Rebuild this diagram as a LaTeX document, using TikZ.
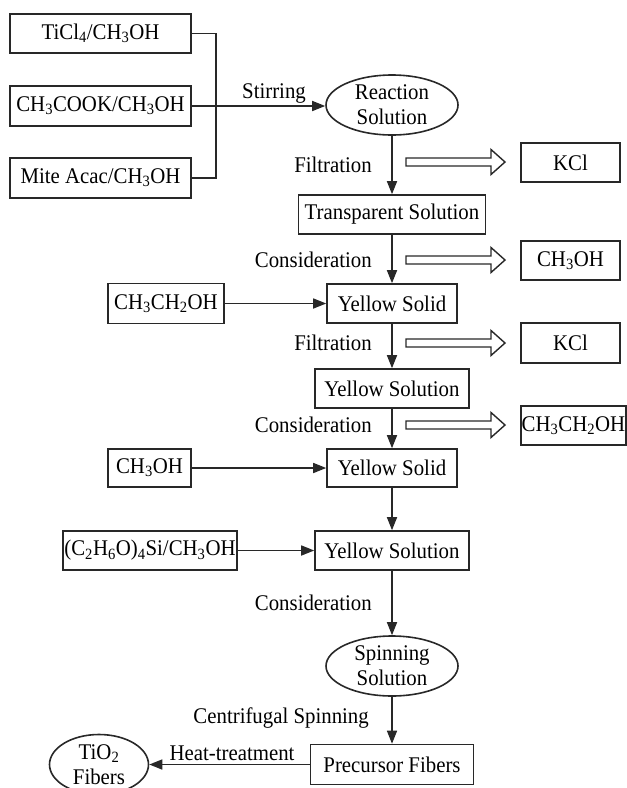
\documentclass[tikz,border=0pt]{standalone}
\usepackage{fontspec}
\setmainfont[FakeStretch=0.93]{Liberation Serif}
\usetikzlibrary{shapes.geometric,arrows.meta}
\newcommand\sbs[1]{\textsubscript{#1}}
\definecolor{linec}{RGB}{40,40,40}
\begin{document}
\begin{tikzpicture}[x=1pt,y=-1pt,
  every node/.style={font=\fontsize{22.4}{25}\selectfont, inner sep=0pt, text=black},
  box/.style={draw=linec, line width=1.6pt, rectangle, minimum height=39pt},
  ell/.style={draw=linec, line width=1.6pt, ellipse, minimum width=132pt, minimum height=60pt, align=center},
  plain/.style={draw=linec, line width=1.6pt},
  con/.style={draw=linec, line width=1.6pt, -{Triangle[length=13pt,width=10pt]}},
  hollow/.style={draw=linec, line width=1.4pt, fill=white, line join=miter}]
\useasboundingbox (0,0) rectangle (627,788);
\clip (0,0) rectangle (627,788);

% left inputs
\node[box, minimum width=181pt] (ticl) at (100.5,33.5) {TiCl\sbs{4}/CH\sbs{3}OH};
\node[box, minimum width=181pt, minimum height=40pt] (cook) at (100.5,106) {CH\sbs{3}COOK/CH\sbs{3}OH};
\node[box, minimum width=181pt, minimum height=40pt] (mite) at (100.5,178) {Mite Acac/CH\sbs{3}OH};
\coordinate (bj) at (216,106);

% main column
\node[ell] (rs) at (392,105) {Reaction\\Solution};
\node[box, minimum width=187pt] (ts) at (392,214.5) {Transparent Solution};
\node[box, minimum width=130pt] (ys1) at (392,303.5) {Yellow Solid};
\node[box, minimum width=154pt] (yso1) at (392,388.5) {Yellow Solution};
\node[box, minimum width=130pt, minimum height=38pt] (ys2) at (392,468) {Yellow Solid};
\node[box, minimum width=154pt] (yso2) at (392,550.5) {Yellow Solution};
\node[ell] (spin) at (392,666) {Spinning\\Solution};
\node[box, minimum width=163pt, minimum height=40pt] (pf) at (392,764.5) {Precursor Fibers};
\node[ell, minimum width=99pt] (tio) at (99,764.5) {TiO\sbs{2}\\Fibers};

% side inputs
\node[box, minimum width=116pt, minimum height=40pt] (etohl) at (166,303.5) {CH\sbs{3}CH\sbs{2}OH};
\node[box, minimum width=83pt, minimum height=38pt] (meohl) at (149.5,468) {CH\sbs{3}OH};
\node[box, minimum width=174pt] (teos) at (150,550.5) {(C\sbs{2}H\sbs{6}O)\sbs{4}Si/CH\sbs{3}OH};

% outputs
\node[box, minimum width=99pt] (kcl1) at (570.5,162.5) {KCl};
\node[box, minimum width=99pt] (meohr) at (570.5,260.5) {CH\sbs{3}OH};
\node[box, minimum width=99pt, minimum height=40pt] (kcl2) at (570.5,343) {KCl};
\node[box, minimum width=105pt] (etohr) at (573.5,425.5) {CH\sbs{3}CH\sbs{2}OH};

% labels
\node (lstir) at (274,93) {Stirring};
\node[anchor=east] (lf1) at (372,165) {Filtration};
\node[anchor=east] (lc1) at (372,260) {Consideration};
\node[anchor=east] (lf2) at (372,343) {Filtration};
\node[anchor=east] (lc2) at (372,425) {Consideration};
\node[anchor=east] (lc3) at (372,603) {Consideration};
\node[anchor=east] (lcs) at (369,718) {Centrifugal Spinning};
\node (lht) at (232,753) {Heat-treatment};

% connectors
\draw[plain] (ticl.east) -| (bj);
\draw[plain] (mite.east) -| (bj);
\draw[con] (cook.east) -- (cook.east -| rs.west);
\draw[con] (rs.south) -- (ts.north);
\draw[con] (ts.south) -- (ys1.north);
\draw[con] (ys1.south) -- (yso1.north);
\draw[con] (yso1.south) -- (ys2.north);
\draw[con] (ys2.south) -- (yso2.north);
\draw[con] (yso2.south) -- (spin.north);
\draw[con] (spin.south) -- (pf.north);
\draw[con] (pf.west) -- (tio.east);
\draw[con] (etohl.east) -- (ys1.west);
\draw[con] (meohl.east) -- (ys2.west);
\draw[con] (teos.east) -- (yso2.west);

% hollow arrows
\foreach \yy in {162,260,343,425}{
  \draw[hollow] (406,\yy-4) -- (491,\yy-4) -- (491,\yy-12.5) -- (505,\yy) -- (491,\yy+12.5) -- (491,\yy+4) -- (406,\yy+4) -- cycle;
}
\end{tikzpicture}
\end{document}
